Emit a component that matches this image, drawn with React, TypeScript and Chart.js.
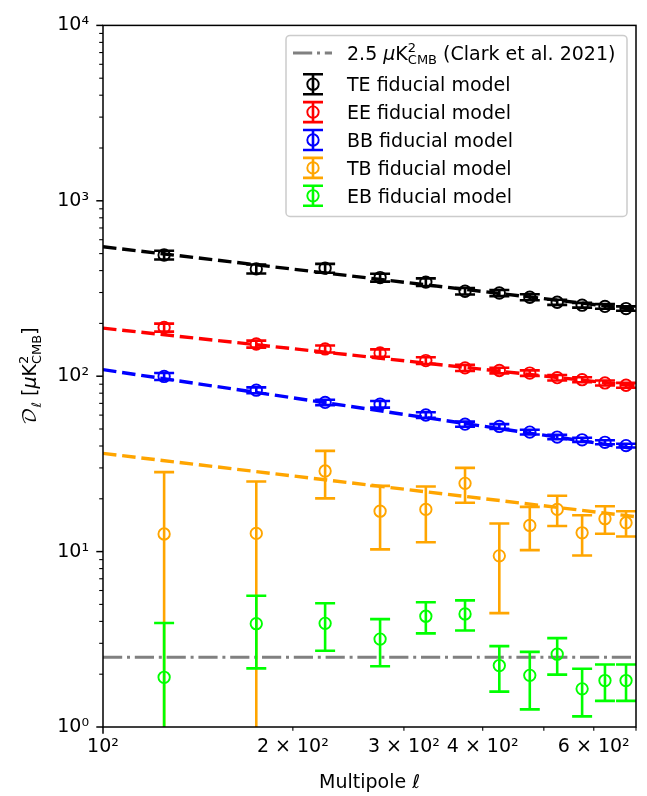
import React, { useEffect, useRef } from 'react';
import { Chart, registerables } from 'chart.js';

Chart.register(...registerables);

// ---------------- data ----------------
const ell = [125, 175, 225, 275, 325, 375, 425, 475, 525, 575, 625, 675];

const teValues = [491, 409, 413, 365, 344, 305, 298, 282, 264, 254, 250, 243];
const teErrors = [28, 24, 24, 19, 17, 13, 12, 11, 9, 8, 7.5, 7];

const eeValues = [189.5, 152.6, 143, 135.7, 122.8, 111.6, 107.8, 104.2, 98.1, 95.5, 91.5, 88.8];
const eeErrors = [10, 7, 6.5, 6.5, 5.5, 4.5, 4, 3.8, 3.5, 3.2, 3, 2.8];

const bbValues = [99.7, 83.2, 70.9, 69.2, 60.1, 53.3, 51.7, 48.0, 45.0, 43.4, 42.0, 40.2];
const bbErrors = [4.5, 3.2, 2.5, 3.0, 2.2, 1.8, 1.6, 1.5, 1.3, 1.2, 1.1, 1.0];

const tbValues = [12.6, 12.7, 28.8, 17.0, 17.4, 24.5, 9.46, 14.1, 17.4, 12.8, 15.4, 14.6];
const tbErrors = [15.8, 12.4, 8.7, 6.7, 6.1, 5.5, 5.0, 3.9, 3.4, 3.3, 2.75, 2.4];

const ebValues = [1.92, 3.88, 3.90, 3.17, 4.28, 4.41, 2.24, 1.97, 2.60, 1.65, 1.84, 1.84];
const ebErrors = [2.0, 1.72, 1.18, 0.95, 0.86, 0.86, 0.65, 0.71, 0.61, 0.50, 0.43, 0.43];

// fiducial model lines (value at ell = 100 and ell = 700)
const modelEll = [100, 700];
const teModel = [547, 240];
const eeModel = [188, 88];
const bbModel = [109, 38.5];
const tbModel = [36.3, 15.8];

const clarkLevel = [2.5, 2.5];

const seriesLabels = ['TE fiducial model', 'EE fiducial model', 'BB fiducial model', 'TB fiducial model', 'EB fiducial model'];
const seriesColors = ['#000000', '#ff0000', '#0000ff', '#ffa500', '#00ff00'];

const xTickValues = [100, 200, 300, 400, 500, 600, 700];
const xTickLabels = ['10²', '2 × 10²', '3 × 10²', '4 × 10²', '', '6 × 10²', ''];
const yTickValues = [1, 10, 100, 1000, 10000];
const yTickLabels = ['10⁰', '10¹', '10²', '10³', '10⁴'];

const FONT = "'DejaVu Sans', sans-serif";
const FS = 19;

// ---------------- helpers ----------------
type Part = { t?: string; sup?: string; sub?: string; italic?: boolean; size?: number; dy?: number; family?: string };

function fontOf(p: Part, size: number) {
  return `${p.italic ? 'italic ' : ''}${size}px ${p.family || FONT}`;
}

function measureParts(ctx: CanvasRenderingContext2D, parts: Part[]) {
  let w = 0;
  for (const p of parts) {
    if (p.t !== undefined) {
      ctx.font = fontOf(p, p.size || FS);
      w += ctx.measureText(p.t).width;
    } else {
      const s = Math.round(FS * 0.7);
      ctx.font = fontOf(p, s);
      const a = p.sup ? ctx.measureText(p.sup).width : 0;
      const b = p.sub ? ctx.measureText(p.sub).width : 0;
      w += Math.max(a, b);
    }
  }
  return w;
}

function drawParts(ctx: CanvasRenderingContext2D, parts: Part[], x: number, y: number) {
  let cx = x;
  ctx.textBaseline = 'alphabetic';
  ctx.textAlign = 'left';
  for (const p of parts) {
    if (p.t !== undefined) {
      ctx.font = fontOf(p, p.size || FS);
      ctx.fillText(p.t, cx, y + (p.dy || 0));
      cx += ctx.measureText(p.t).width;
    } else {
      const s = Math.round(FS * 0.7);
      ctx.font = fontOf(p, s);
      const a = p.sup ? ctx.measureText(p.sup).width : 0;
      const b = p.sub ? ctx.measureText(p.sub).width : 0;
      if (p.sup) ctx.fillText(p.sup, cx, y - 8);
      if (p.sub) ctx.fillText(p.sub, cx, y + 4.5);
      cx += Math.max(a, b);
    }
  }
}

const yLabelParts: Part[] = [
  { t: '𝒟', family: "'DejaVu Sans', 'DejaVu Math TeX Gyre', 'Noto Sans Math', sans-serif" },
  { t: 'ℓ', size: 13, dy: 4.5 },
  { t: ' [' },
  { t: 'μ', italic: true },
  { t: 'K' },
  { sup: '2', sub: 'CMB' },
  { t: ']' },
];

const clarkLabelParts: Part[] = [
  { t: '2.5 ' },
  { t: 'μ', italic: true },
  { t: 'K' },
  { sup: '2', sub: 'CMB' },
  { t: ' (Clark et al. 2021)' },
];

const decorPlugin = {
  id: 'decor',
  beforeDraw(chart: any) {
    const ctx = chart.ctx;
    ctx.save();
    ctx.fillStyle = '#ffffff';
    ctx.fillRect(0, 0, chart.width, chart.height);
    ctx.restore();
  },
  afterDatasetDraw(chart: any, args: any) {
    const ds = chart.data.datasets[args.index];
    if (!ds.errorBars) return;
    const { ctx, chartArea } = chart;
    const xs = chart.scales.x;
    const ys = chart.scales.y;
    ctx.save();
    ctx.beginPath();
    ctx.rect(chartArea.left, chartArea.top, chartArea.right - chartArea.left, chartArea.bottom - chartArea.top);
    ctx.clip();
    ctx.strokeStyle = ds.borderColor;
    ctx.lineWidth = 2.6;
    ctx.lineCap = 'butt';
    ds.data.forEach((pt: any, i: number) => {
      const e = ds.errorBars[i];
      const px = xs.getPixelForValue(pt.x);
      const top = ys.getPixelForValue(pt.y + e);
      const lo = pt.y - e;
      const bot = lo > 0 ? ys.getPixelForValue(lo) : chartArea.bottom + 40;
      ctx.beginPath();
      ctx.moveTo(px, top);
      ctx.lineTo(px, bot);
      ctx.moveTo(px - 10, top);
      ctx.lineTo(px + 10, top);
      ctx.moveTo(px - 10, bot);
      ctx.lineTo(px + 10, bot);
      ctx.stroke();
    });
    ctx.restore();
  },
  afterDraw(chart: any) {
    const { ctx, chartArea } = chart;
    const { left, right, top, bottom } = chartArea;
    const xs = chart.scales.x;
    const ys = chart.scales.y;
    ctx.save();
    // frame
    ctx.strokeStyle = '#000';
    ctx.lineWidth = 1.5;
    ctx.strokeRect(left, top, right - left, bottom - top);
    // x ticks
    xTickValues.forEach((v) => {
      const px = xs.getPixelForValue(v);
      const major = v === 100;
      ctx.lineWidth = major ? 1.5 : 1.1;
      ctx.beginPath();
      ctx.moveTo(px, bottom);
      ctx.lineTo(px, bottom + (major ? 6.7 : 3.8));
      ctx.stroke();
    });
    // y ticks
    yTickValues.forEach((v, k) => {
      const py = ys.getPixelForValue(v);
      ctx.lineWidth = 1.5;
      ctx.beginPath();
      ctx.moveTo(left, py);
      ctx.lineTo(left - 6.7, py);
      ctx.stroke();
      if (k < yTickValues.length - 1) {
        for (let m = 2; m <= 9; m++) {
          const pm = ys.getPixelForValue(v * m);
          ctx.lineWidth = 1.1;
          ctx.beginPath();
          ctx.moveTo(left, pm);
          ctx.lineTo(left - 3.8, pm);
          ctx.stroke();
        }
      }
    });

    // y axis label (rotated)
    ctx.fillStyle = '#000';
    ctx.save();
    ctx.translate(31, (top + bottom) / 2);
    ctx.rotate(-Math.PI / 2);
    const wl = measureParts(ctx, yLabelParts);
    drawParts(ctx, yLabelParts, -wl / 2, 5);
    ctx.restore();

    // legend
    const bx = right - 350;
    const by = top + 10;
    const bw = 341;
    const bh = 181;
    const r = 4;
    ctx.beginPath();
    ctx.moveTo(bx + r, by);
    ctx.lineTo(bx + bw - r, by);
    ctx.arcTo(bx + bw, by, bx + bw, by + r, r);
    ctx.lineTo(bx + bw, by + bh - r);
    ctx.arcTo(bx + bw, by + bh, bx + bw - r, by + bh, r);
    ctx.lineTo(bx + r, by + bh);
    ctx.arcTo(bx, by + bh, bx, by + bh - r, r);
    ctx.lineTo(bx, by + r);
    ctx.arcTo(bx, by, bx + r, by, r);
    ctx.closePath();
    ctx.fillStyle = 'rgba(255,255,255,0.8)';
    ctx.fill();
    ctx.strokeStyle = '#cccccc';
    ctx.lineWidth = 1.5;
    ctx.stroke();

    const symX = bx + 27;
    const textX = bx + 61;
    // row 1: gray dash-dot
    const row1 = by + 17.5;
    ctx.strokeStyle = '#808080';
    ctx.lineWidth = 3;
    ctx.setLineDash([19.2, 4.8, 3, 4.8]);
    ctx.beginPath();
    ctx.moveTo(bx + 7, row1);
    ctx.lineTo(bx + 46, row1);
    ctx.stroke();
    ctx.setLineDash([]);
    ctx.fillStyle = '#000';
    drawParts(ctx, clarkLabelParts, textX, row1 + 7);

    seriesLabels.forEach((lab, k) => {
      const cy = by + 48.8 + 27.9 * k;
      const col = seriesColors[k];
      ctx.strokeStyle = col;
      ctx.lineWidth = 2.6;
      ctx.beginPath();
      ctx.moveTo(symX, cy - 10);
      ctx.lineTo(symX, cy + 10);
      ctx.moveTo(symX - 10, cy - 10);
      ctx.lineTo(symX + 10, cy - 10);
      ctx.moveTo(symX - 10, cy + 10);
      ctx.lineTo(symX + 10, cy + 10);
      ctx.stroke();
      ctx.lineWidth = 1.9;
      ctx.beginPath();
      ctx.arc(symX, cy, 5.7, 0, Math.PI * 2);
      ctx.stroke();
      ctx.fillStyle = '#000';
      ctx.font = `${FS}px ${FONT}`;
      ctx.textBaseline = 'alphabetic';
      ctx.textAlign = 'left';
      ctx.fillText(lab, textX, cy + 7);
    });
    ctx.restore();
  },
};

function buildDatasets() {
  const values = [teValues, eeValues, bbValues, tbValues, ebValues];
  const errors = [teErrors, eeErrors, bbErrors, tbErrors, ebErrors];
  const models = [teModel, eeModel, bbModel, tbModel];
  const ds: any[] = [];
  // Clark level line
  ds.push({
    label: '2.5 μK²CMB (Clark et al. 2021)',
    data: modelEll.map((x, i) => ({ x, y: clarkLevel[i] })),
    showLine: true,
    borderColor: '#808080',
    borderWidth: 3,
    borderDash: [19.2, 4.8, 3, 4.8],
    pointRadius: 0,
    order: 20,
  });
  values.forEach((vals, k) => {
    const col = seriesColors[k];
    if (models[k]) {
      ds.push({
        label: seriesLabels[k] + ' (model)',
        data: modelEll.map((x, i) => ({ x, y: models[k][i] })),
        showLine: true,
        borderColor: col,
        borderWidth: 3.4,
        borderDash: [13.5, 5.8],
        borderCapStyle: 'butt',
        pointRadius: 0,
        order: 10 - k,
      });
    }
    ds.push({
      label: seriesLabels[k],
      data: ell.map((x, i) => ({ x, y: vals[i] })),
      showLine: false,
      borderColor: col,
      backgroundColor: 'rgba(0,0,0,0)',
      pointBackgroundColor: 'rgba(0,0,0,0)',
      pointBorderColor: col,
      pointBorderWidth: 1.9,
      pointRadius: 5.7,
      pointHoverRadius: 5.7,
      errorBars: errors[k],
      order: 5 - k,
    });
  });
  return ds;
}

export default function App() {
  const ref = useRef<HTMLCanvasElement>(null);
  useEffect(() => {
    document.body.style.margin = '0';
    const canvas = ref.current!;
    const chart = new Chart(canvas, {
      type: 'scatter',
      data: { datasets: buildDatasets() },
      options: {
        responsive: false,
        animation: false,
        devicePixelRatio: 1,
        layout: { padding: { left: 0, right: 11, top: 18, bottom: 0 } },
        plugins: {
          legend: { display: false },
          tooltip: { enabled: false },
          title: { display: false },
        },
        elements: { line: { tension: 0 } },
        scales: {
          x: {
            type: 'logarithmic',
            position: 'bottom',
            min: 100,
            max: 700,
            grid: { display: false, drawTicks: false },
            border: { display: false },
            afterBuildTicks: (s: any) => {
              s.ticks = xTickValues.map((v) => ({ value: v }));
            },
            afterFit: (s: any) => {
              s.height = 69;
            },
            ticks: {
              autoSkip: false,
              maxRotation: 0,
              minRotation: 0,
              padding: 9,
              color: '#000',
              font: { family: FONT, size: FS },
              callback: (_v: any, i: number) => xTickLabels[i],
            },
            title: {
              display: true,
              text: 'Multipole ℓ',
              color: '#000',
              font: { family: FONT, size: FS },
              padding: { top: 0, bottom: 2 },
            },
          },
          y: {
            type: 'logarithmic',
            position: 'left',
            min: 1,
            max: 10000,
            grid: { display: false, drawTicks: false },
            border: { display: false },
            afterBuildTicks: (s: any) => {
              s.ticks = yTickValues.map((v) => ({ value: v }));
            },
            afterFit: (s: any) => {
              s.width = 103;
            },
            ticks: {
              autoSkip: false,
              padding: 14,
              color: '#000',
              font: { family: FONT, size: FS },
              callback: (_v: any, i: number) => yTickLabels[i],
            },
          },
        },
      } as any,
      plugins: [decorPlugin],
    });
    return () => chart.destroy();
  }, []);
  return (
    <div style={{ position: 'absolute', left: 0, top: 0, width: 647, height: 796 }}>
      <canvas ref={ref} width={647} height={796} style={{ display: 'block', width: 647, height: 796 }} />
    </div>
  );
}
